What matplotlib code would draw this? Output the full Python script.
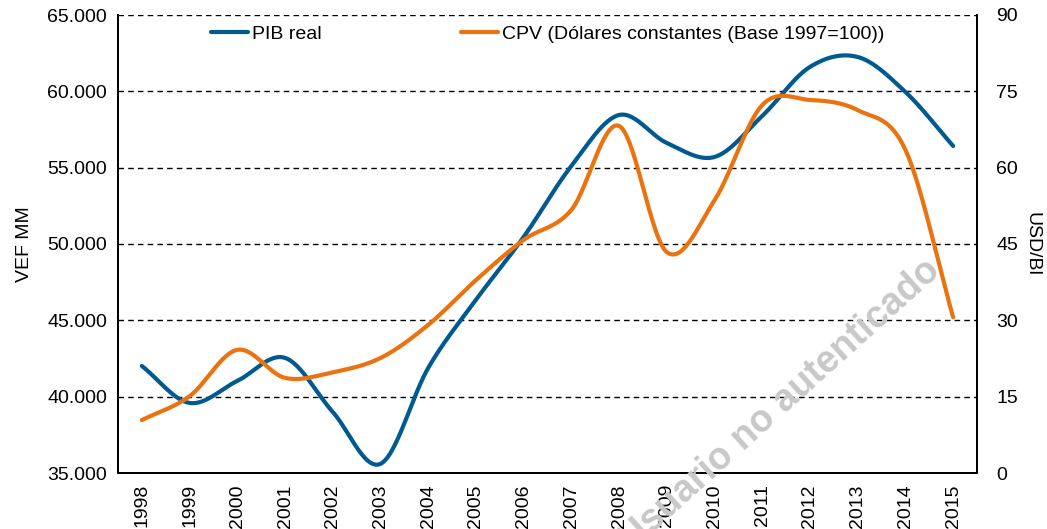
import matplotlib
matplotlib.use("Agg")
import matplotlib.pyplot as plt
import numpy as np

years = list(range(1998, 2016))
pib_real = [42010, 39590, 41030, 42540, 39000, 35600, 41880, 46340, 50460,
            55110, 58450, 56620, 55700, 58390, 61600, 62250, 59960, 56420]
cpv = [10.4, 15.1, 24.2, 18.7, 19.8, 22.6, 29.1, 37.9, 45.8,
       51.7, 68.2, 43.4, 53.6, 72.3, 73.3, 71.3, 63.5, 30.6]

BLUE = "#005a8f"
ORANGE = "#ea7310"


def smooth(x, y, n=30):
    # Catmull-Rom curve through the points, like Excel's smoothed line
    x = np.asarray(x, float)
    y = np.asarray(y, float)
    px = np.concatenate([[2 * x[0] - x[1]], x, [2 * x[-1] - x[-2]]])
    py = np.concatenate([[2 * y[0] - y[1]], y, [2 * y[-1] - y[-2]]])
    xs, ys = [], []
    t = np.linspace(0, 1, n, endpoint=False)
    for i in range(1, len(px) - 2):
        for arr, out in ((px, xs), (py, ys)):
            p0, p1, p2, p3 = arr[i - 1], arr[i], arr[i + 1], arr[i + 2]
            out.extend(0.5 * (2 * p1 + (-p0 + p2) * t
                              + (2 * p0 - 5 * p1 + 4 * p2 - p3) * t ** 2
                              + (-p0 + 3 * p1 - 3 * p2 + p3) * t ** 3))
    xs.append(x[-1])
    ys.append(y[-1])
    return np.array(xs), np.array(ys)


plt.rcParams['font.family'] = ['Liberation Sans', 'DejaVu Sans']
plt.rcParams['font.size'] = 14

fig = plt.figure(figsize=(10.47, 5.29), dpi=100)
ax = fig.add_axes([118 / 1047, 1 - 473 / 529, (977 - 118) / 1047, (473 - 15) / 529])
ax2 = ax.twinx()

idx = np.arange(len(years))
sx, sy = smooth(idx, pib_real)
l1, = ax.plot(sx, sy, color=BLUE, lw=3, solid_capstyle='round', label="PIB real")
sx, sy = smooth(idx, cpv)
l2, = ax2.plot(sx, sy, color=ORANGE, lw=3, solid_capstyle='round',
               label="CPV (Dólares constantes (Base 1997=100))")

ax.set_xlim(-0.5, len(years) - 0.5)
ax.set_ylim(35000, 65000)
ax.set_yticks(range(35000, 65001, 5000))
ax.set_yticklabels([f"{v:,}".replace(",", ".") for v in range(35000, 65001, 5000)])
ax2.set_ylim(0, 90)
ax2.set_yticks(range(0, 91, 15))
ax.set_xticks(idx)
ax.set_xticklabels([str(y) for y in years], rotation=90)

for v in range(40000, 65001, 5000):
    ax.axhline(v, color="black", lw=1, ls=(0, (4, 3)), zorder=0)

for a in (ax, ax2):
    a.spines['top'].set_visible(False)
    for s in ('left', 'right', 'bottom'):
        a.spines[s].set_linewidth(1.3)
    a.tick_params(length=0, pad=8)
ax.tick_params(axis='y', pad=8)
ax2.tick_params(axis='y', pad=14)

ax.set_ylabel("VEF MM", labelpad=10)
ax2.set_ylabel("USD/Bl", rotation=270, labelpad=16)

ax.legend(handles=[l1, l2], loc='upper center', bbox_to_anchor=(0.5, 1.015), ncol=2,
          frameon=False, handlelength=1.9, handletextpad=0.2, columnspacing=7.2)

fig.text(780 / 1047, 1 - 405 / 529, "Usuario no autenticado", fontsize=27,
         fontweight='bold', color="#c8c8c8", rotation=42, ha='center', va='center',
         zorder=0)

fig.savefig("out.png", dpi=100)
